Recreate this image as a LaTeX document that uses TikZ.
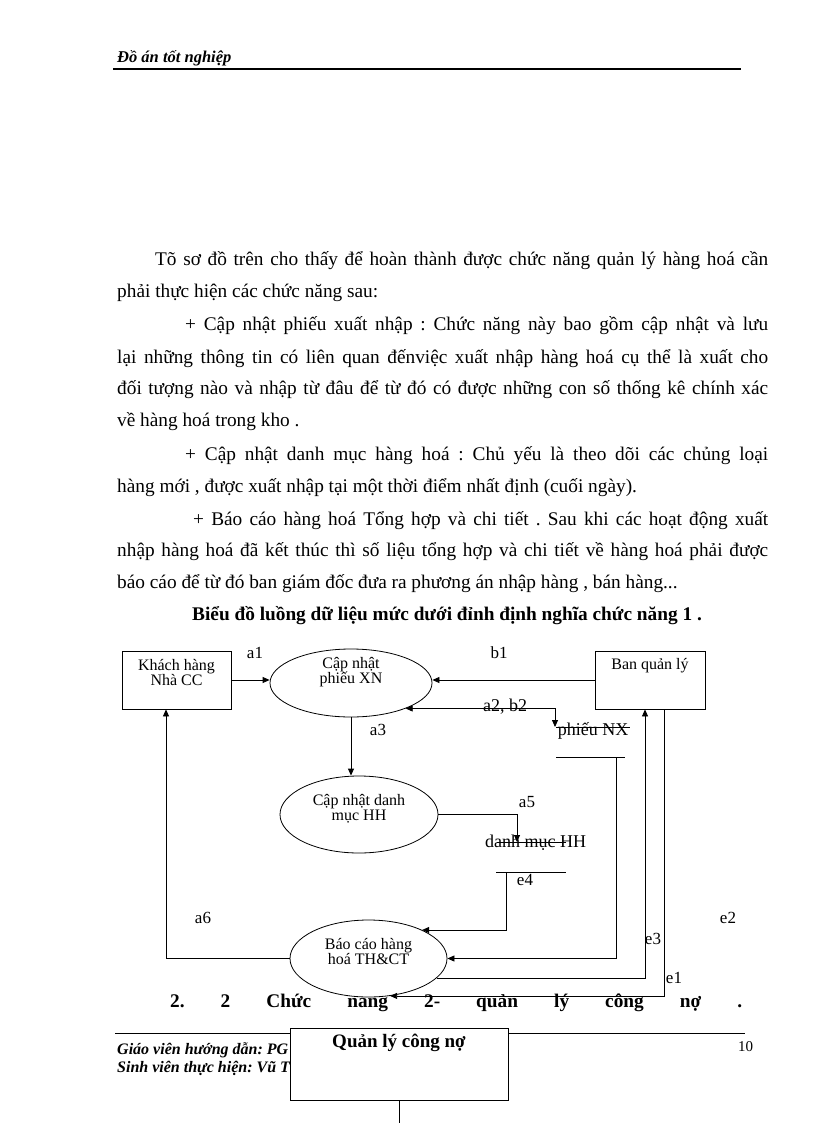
\documentclass[tikz,border=0pt]{standalone}
\usepackage{fontspec}
\setmainfont{Liberation Serif}
\usepackage{tikz}
\usetikzlibrary{positioning, arrows.meta, shapes.geometric}

\newcommand{\jline}[2]{\makebox[#1][s]{#2}}

\begin{document}
\frenchspacing
\begin{tikzpicture}[x=1pt, y=-1pt, >={Triangle[length=7pt,width=6pt]},
    body/.style={anchor=base west, inner sep=0pt, font=\fontsize{19.3}{21}\selectfont},
    bodybf/.style={body, font=\fontsize{19.3}{21}\selectfont\bfseries},
    entity/.style={draw, line width=0.8pt, fill=white, minimum width=109pt, minimum height=58pt},
    process/.style={draw, ellipse, line width=0.8pt, fill=white, inner sep=0pt},
    ptext/.style={align=center, inner sep=0pt, font=\fontsize{16}{15}\selectfont},
    store/.style={inner sep=0pt, font=\fontsize{18}{20}\selectfont},
    flabel/.style={inner sep=0pt, font=\fontsize{17}{18}\selectfont},
    foot/.style={anchor=base west, inner sep=0pt, font=\fontsize{16}{17}\selectfont\bfseries\itshape},
    flow/.style={->, line width=0.8pt}]
    \useasboundingbox (0,0) rectangle (816,1123);

    % Page header
    \node[anchor=base west, inner sep=0pt, font=\fontsize{16.5}{18}\selectfont\bfseries\itshape] (head) at (117,63) {Đồ án tốt nghiệp};
    \draw[line width=2pt] (113,69) -- (741,69);

    % Body text
    \node[body] (l1) at (155,265) {\jline{613pt}{Tõ sơ đồ trên cho thấy để hoàn thành được chức năng quản lý hàng hoá cần}};
    \node[body] (l2) at (117,297) {phải thực hiện các chức năng sau:};
    \node[body] (l3) at (185,330) {\jline{583pt}{+ Cập nhật phiếu xuất nhập : Chức năng này bao gồm cập nhật và lưu}};
    \node[body] (l4) at (117,363) {\jline{651pt}{lại những thông tin có liên quan đếnviệc xuất nhập hàng hoá cụ thể là xuất cho}};
    \node[body] (l5) at (117,394) {\jline{651pt}{đối tượng nào và nhập từ đâu để từ đó có được những con số thống kê chính xác}};
    \node[body] (l6) at (117,426) {về hàng hoá trong kho .};
    \node[body] (l7) at (185,460) {\jline{583pt}{+ Cập nhật danh mục hàng hoá : Chủ yếu là theo dõi các chủng loại}};
    \node[body] (l8) at (117,492) {hàng mới , được xuất nhập tại một thời điểm nhất định (cuối ngày).};
    \node[body] (l9) at (193,525) {\jline{575pt}{+ Báo cáo hàng hoá Tổng hợp và chi tiết . Sau khi các hoạt động xuất}};
    \node[body] (l10) at (117,556) {\jline{651pt}{nhập hàng hoá đã kết thúc thì số liệu tổng hợp và chi tiết về hàng hoá phải được}};
    \node[body] (l11) at (117,588) {báo cáo để từ đó ban giám đốc đưa ra phương án nhập hàng , bán hàng...};
    \node[bodybf] (title) at (192,620) {Biểu đồ luồng dữ liệu mức dưới đỉnh định nghĩa chức năng 1 .};
    \node[bodybf] (sec) at (170,1007) {\jline{572pt}{2. 2 Chức năng 2- quản lý công nợ .}};

    % Page footer
    \draw[line width=0.8pt] (115,1033) -- (745,1033);
    \node[foot] (gv) at (117,1054) {Giáo viên hướng dẫn: PG};
    \node[foot] (sv) at (117,1072) {Sinh viên thực hiện: Vũ T};
    \node[anchor=base west, inner sep=0pt, font=\fontsize{15}{17}\selectfont] (pg) at (738,1051) {10};

    % Diagram nodes
    \node[entity] (kh) at (176.5,680) {};
    \node[ptext] (kht) at (176.5,673) {Khách hàng\\Nhà CC};
    \node[process, minimum width=162pt, minimum height=68pt] (xn) at (351,683) {};
    \node[ptext] (xnt) at ([yshift=11pt]xn.center) {Cập nhật\\phiếu XN};
    \node[entity, minimum width=110pt] (bql) at (650,680) {};
    \node[ptext] (bqlt) at (650,666) {Ban quản lý};
    \node[process, minimum width=158pt, minimum height=77pt] (dm) at (359,814.5) {};
    \node[ptext] (dmt) at ([yshift=6pt]dm.center) {Cập nhật danh\\mục HH};
    \node[process, minimum width=157pt, minimum height=77pt] (bc) at (368.5,958.5) {};
    \node[ptext] (bct) at ([yshift=7pt]bc.center) {Báo cáo hàng\\hoá TH\&CT};

    % Data stores
    \node[store] (pnx) at (593,731) {phiếu NX};
    \draw[line width=0.8pt] (556,727) -- (630,727);
    \draw[line width=0.8pt] (556,757) -- (625,757);
    \node[store] (dmhh) at (535.5,843) {danh mục HH};
    \draw[line width=0.8pt] (497,842) -- (566,842);
    \draw[line width=0.8pt] (496,872) -- (566,872);
    \coordinate (pnxin) at (555,727);
    \coordinate (pnxout) at (616,757);
    \coordinate (dmin) at (517,842);
    \coordinate (dmout) at (506,872);

    % Flows
    \draw[flow] (kh.east) -- (kh.east -| xn.west);
    \draw[flow] (bql.west) -- (bql.west -| xn.east);
    \draw[<->, line width=0.8pt] (xn.-25) -| (pnxin);
    \draw[flow] (xn.south) -- (xn.south |- dm.north);
    \draw[flow] (dm.east) -| (dmin);
    \draw[flow] (dmout) |- (bc.28);
    \draw[flow] (pnxout) |- (bc.east);
    \draw[flow] (bc.-16) -| ([xshift=-5pt]bql.south);
    \draw[flow] ([xshift=14pt]bql.south) |- (bc.-60);
    \draw[flow] (bc.west) -| ([xshift=-10.5pt]kh.south);

    % Flow labels
    \node[flabel] (a1) at (255,653) {a1};
    \node[flabel] (b1) at (499,653) {b1};
    \node[flabel, font=\fontsize{18}{18}\selectfont] (a2b2) at (505,707) {a2, b2};
    \node[flabel] (a3) at (378,730) {a3};
    \node[flabel] (a5) at (527,802) {a5};
    \node[flabel] (e4) at (525,880) {e4};
    \node[flabel] (a6) at (203,918) {a6};
    \node[flabel] (e2) at (728,918) {e2};
    \node[flabel] (e3) at (653,939) {e3};
    \node[flabel] (e1) at (674,978) {e1};

    % Next section box
    \node[draw, line width=0.8pt, fill=white, minimum width=218pt, minimum height=72pt] (qlcn) at (399,1064) {};
    \node[inner sep=0pt, font=\fontsize{19}{20}\selectfont\bfseries] (qlcnt) at (399,1043) {Quản lý công nợ};
    \coordinate (qlcnend) at (399,1123);
    \draw[line width=0.8pt] (qlcn.south) -- (qlcnend);
\end{tikzpicture}
\end{document}
